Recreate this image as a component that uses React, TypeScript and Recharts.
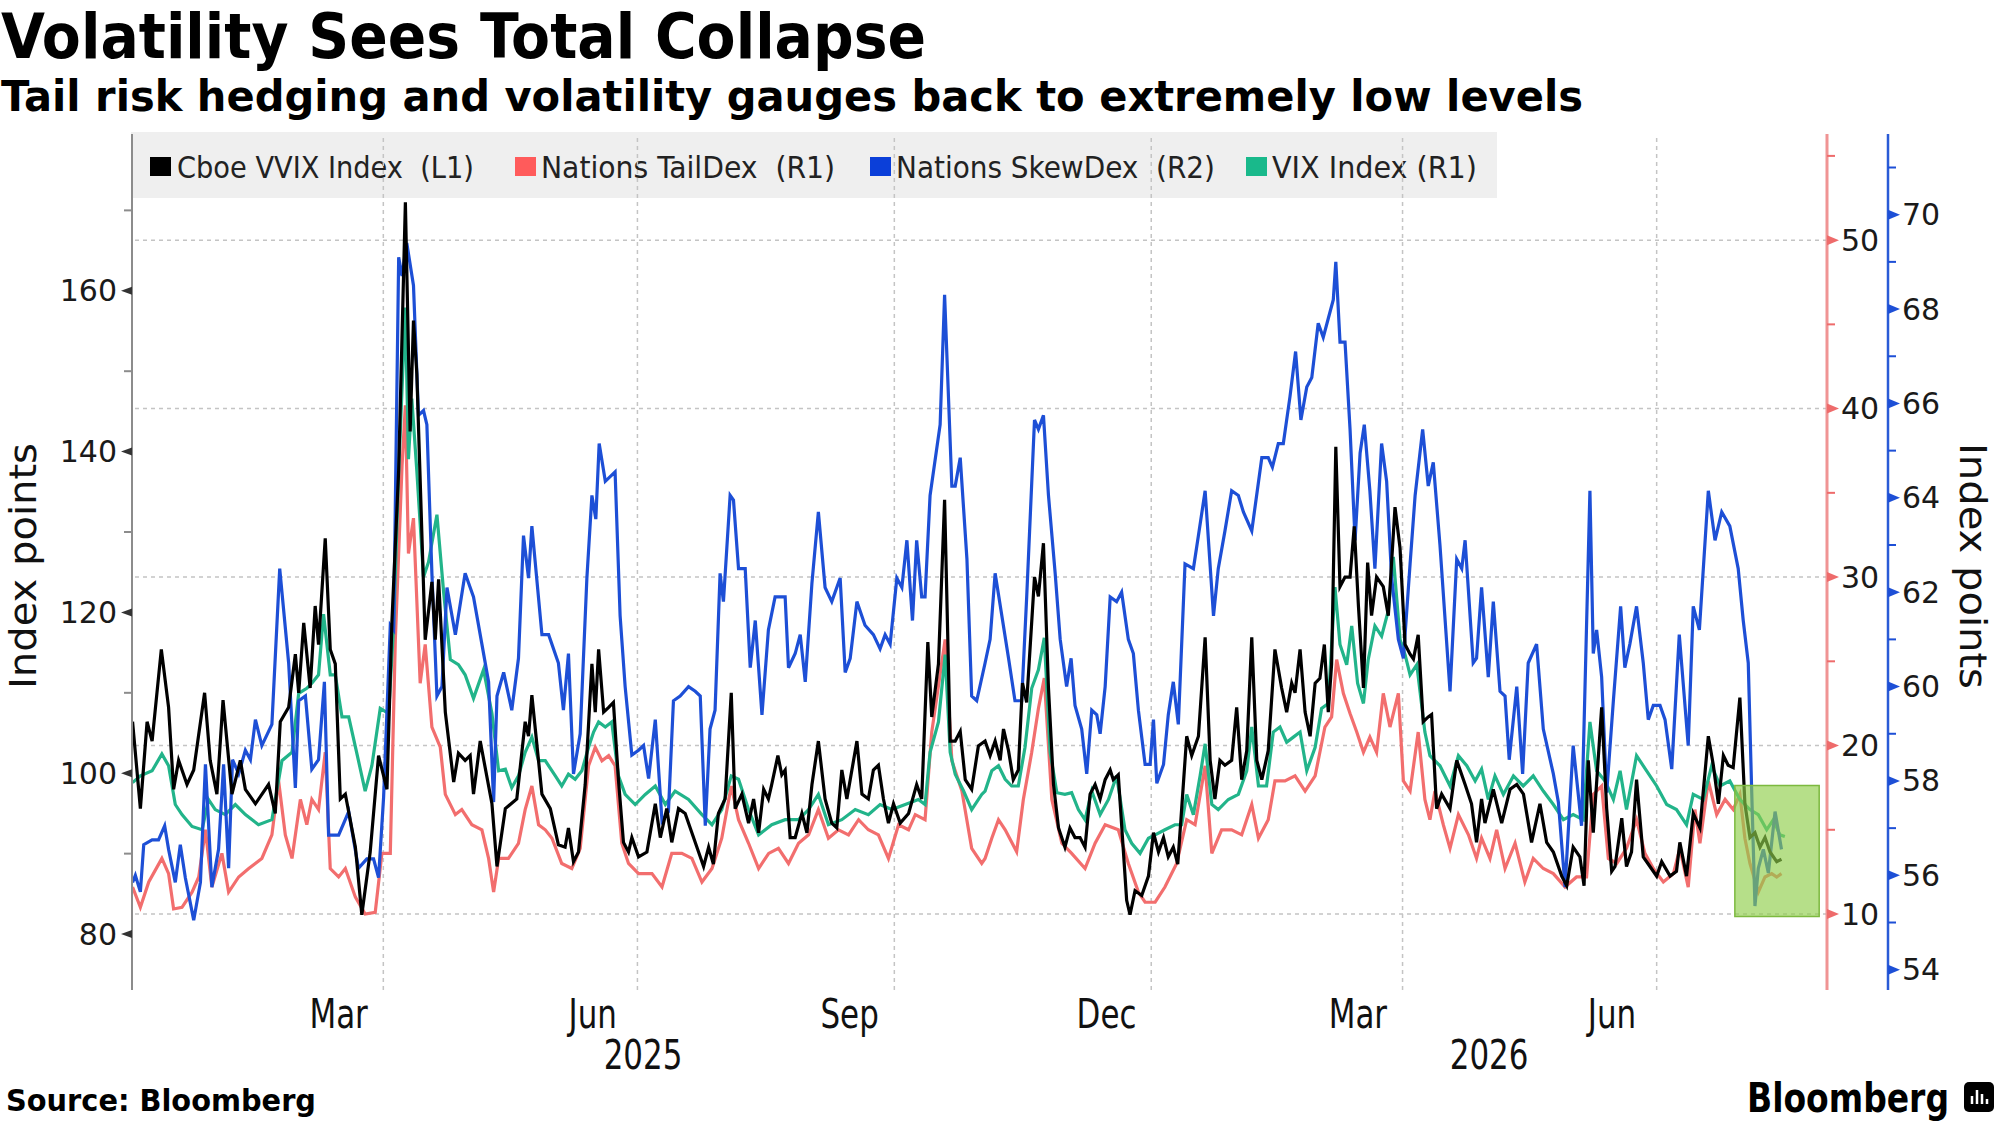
import React from "react";
import {
  LineChart,
  Line,
  XAxis,
  YAxis,
  ReferenceLine,
  ReferenceArea,
} from "recharts";

// every point: [days since 1 Jan 2025, index level]
const vvix: [number, number][] = [
  [0.2, 106.4], [3, 95.6], [5.4, 106.4], [7.2, 104], [10.5, 115.4], [13.1, 108.2], [14.9, 98], [16.7, 101.6], [19.7, 98.6], [22.1, 100.4],
  [26, 110], [28, 101.6], [30.4, 97.4], [32.6, 109.1], [35.8, 97.4], [38.8, 101.6], [40.6, 98], [44.2, 96.2], [48.9, 98.6], [51.3, 95],
  [53.1, 106.4], [56.1, 108.2], [58.5, 114.8], [59.7, 110], [61.5, 118.7], [63.8, 110.6], [65.6, 120.8], [66.8, 116], [69.2, 129.2], [71, 115.4],
  [72.8, 113.6], [74.6, 96.8], [76.4, 97.4], [80, 90.8], [82.3, 82.4], [85.3, 90.2], [88.3, 102.2], [91.3, 98], [93.1, 119], [95.5, 137.7],
  [97.9, 171], [99.6, 142.5], [100.8, 156.3], [102, 149.7], [105, 116.6], [107.4, 123.8], [108.6, 116.6], [109.8, 124.1], [112.2, 107.6], [115.2, 98.9],
  [116.9, 102.5], [119.3, 101.6], [121.1, 102.2], [122.3, 97.4], [124.7, 104], [128.9, 96.2], [130.7, 88.4], [133.7, 95.6], [137.8, 96.8], [140.8, 106.4],
  [142, 104.6], [143.2, 109.7], [146.8, 97.4], [149.8, 95.6], [152.7, 91.1], [155.1, 90.8], [156.3, 93.2], [158.1, 89], [159.9, 90.2], [162.3, 98.6],
  [164.7, 113.6], [165.9, 107.6], [167.1, 115.4], [168.9, 107.6], [170.7, 108.2], [172.4, 108.8], [174.2, 99.2], [176, 91.4], [177.8, 90.2], [179, 92],
  [181.4, 89.6], [184.4, 90.2], [187.4, 96.2], [189.2, 92], [191.5, 95.6], [193.3, 91.4], [195.7, 95.6], [198.1, 95], [200.5, 92.6], [202.9, 90.2],
  [204.7, 88.4], [206.5, 90.8], [208.2, 88.7], [210, 95], [212.4, 96.8], [214.6, 110], [216, 95.6], [218.4, 97.4], [220.8, 93.8], [222.6, 96.8],
  [224.4, 92.6], [226.2, 98], [227.9, 96.8], [229.1, 98.6], [231.3, 102.2], [232.7, 99.8], [233.9, 100.4], [235.7, 92], [237.5, 92], [239.9, 95],
  [241.7, 92.6], [243.5, 98.6], [245.8, 104], [248.2, 96.8], [250.6, 93.8], [252.4, 93.2], [254.2, 100.4], [256, 96.8], [257.2, 99.2], [259.6, 104],
  [261.4, 97.4], [263.7, 96.8], [265.5, 100.4], [267.3, 101], [269.1, 96.8], [270.9, 93.8], [272.7, 96.2], [275.1, 93.8], [278.1, 95], [281, 98.6],
  [282.8, 96.8], [285, 116.3], [286.4, 107], [288.8, 113.6], [291, 134], [293, 104], [294.8, 104], [296.6, 105.2], [298.4, 99.2], [300.7, 98],
  [303.1, 103.4], [305.5, 104], [307.3, 102.2], [309.1, 104], [310.9, 101.6], [312.1, 105.5], [313.9, 102.8], [315.6, 99.2], [317.4, 100.4], [318.9, 111.2],
  [320.4, 108.8], [323.2, 124.4], [324.6, 122], [326.4, 128.6], [328.2, 110.6], [330, 98.6], [331.8, 93.2], [334.1, 90.8], [335.9, 93.2], [337.7, 92],
  [339.5, 92], [341.3, 90.8], [343.1, 97.4], [344.9, 98.6], [346.7, 96.8], [348.5, 99.2], [350.3, 100.4], [351.4, 99.2], [353.2, 99.8], [354.7, 92],
  [356.2, 84.2], [357.4, 82.4], [359.2, 85.4], [361.6, 84.8], [364, 87.2], [365.8, 92.6], [367.6, 90.2], [369.4, 92], [371.1, 89.6], [372.9, 90.8],
  [374.5, 88.7], [375.9, 95.6], [377.7, 104.6], [379.5, 102.2], [381.9, 104.6], [384.3, 116.9], [386.1, 101.6], [387.8, 96.8], [389.6, 101.6], [391.4, 101],
  [393.8, 101.6], [395.6, 108.2], [397.4, 99.2], [399.2, 102.8], [401, 116.9], [402.8, 101.6], [404.6, 99.2], [406.9, 102.8], [409.3, 115.4], [411.7, 110.6],
  [413.5, 107.6], [415.3, 111.2], [416.5, 110], [418.3, 115.4], [420.1, 107.6], [421.9, 104.6], [423.7, 111.2], [425.4, 111.8], [427, 116], [428.4, 107.6],
  [429.6, 113.6], [431.1, 140.6], [432.6, 123.2], [434.4, 124.4], [436.2, 124.4], [437.7, 130.7], [439.2, 120.8], [441, 110.6], [442.5, 126.2], [443.9, 119.6],
  [445.7, 124.4], [448.1, 123.2], [449.9, 119.6], [452.3, 133.1], [454.1, 128], [455.9, 116], [457.7, 114.8], [458.9, 114.2], [460.6, 117.2], [462.4, 106.4],
  [464.2, 107], [465.4, 107.3], [467.2, 95.6], [469, 97.4], [472, 95.6], [474.4, 101.6], [477.4, 98.6], [479.7, 96.2], [481.5, 91.4], [483.3, 96.8],
  [484.5, 93.8], [487.5, 98], [490.5, 93.8], [493.5, 98], [495.9, 98.6], [498.3, 97.4], [501.2, 91.4], [504.2, 96.2], [506.6, 91.4], [509, 90.2],
  [512, 87.2], [513.8, 86], [516.1, 90.8], [518.5, 89.6], [520, 86], [521.5, 101.6], [523.3, 92.6], [526.3, 108.2], [528.1, 95.6], [529.9, 87.8],
  [531.1, 88.4], [533.5, 94.4], [535.2, 88.4], [537, 90.2], [538.8, 99.2], [541.2, 89.6], [543.6, 88.4], [546, 87.2], [547.8, 89], [550.8, 87.2],
  [553.1, 87.8], [554.3, 91.4], [556.7, 87.2], [559.1, 95], [561.5, 93.2], [564.5, 104.6], [566.3, 101], [568.1, 96.2], [569.9, 102.2], [571.6, 101],
  [573.4, 100.7], [575.8, 109.4], [577.6, 96.2], [579.4, 92], [581.2, 92.6], [583, 90.8], [584.8, 92], [586.6, 90.2], [589, 89], [590.7, 89.3],
];

const tailDex: [number, number][] = [
  [0.2, 11.6], [3, 10.4], [6, 11.9], [10.7, 13.3], [13.1, 12.4], [14.9, 10.3], [17.9, 10.4], [21.5, 11.3], [23.9, 12.2], [26.3, 15],
  [28.6, 11.6], [32.2, 13.6], [34.6, 11.3], [38.2, 12.2], [41.8, 12.7], [46.5, 13.3], [50.1, 14.7], [52.5, 17.9], [54.9, 14.7], [57.3, 13.3],
  [60.3, 16.8], [62.6, 15.3], [64.4, 16.8], [66.8, 16.2], [69.2, 19.6], [71, 12.7], [74, 12.2], [76.4, 12.7], [80, 11], [83.5, 10],
  [87.1, 10.1], [89.5, 13.6], [92.5, 13.6], [94.3, 26.3], [96.7, 36.6], [97.9, 40.2], [99, 31.4], [100.8, 33.5], [103.2, 23.7], [105, 26],
  [107.4, 21.1], [110.4, 19.9], [112.2, 17.1], [115.8, 15.9], [118.1, 16.2], [121.7, 15.3], [125.3, 15], [127.7, 13.3], [129.5, 11.3], [131.3, 13.3],
  [134.8, 13.3], [138.4, 14.2], [140.8, 16.2], [143.2, 17.6], [145.6, 15.3], [148, 15], [150.4, 14.5], [153.9, 13], [157.5, 12.7], [160.5, 13.9],
  [163.5, 18.8], [165.9, 19.9], [168.3, 19.1], [170.7, 19.4], [173, 18.8], [175.4, 14.2], [177.8, 13], [181.4, 12.4], [186.2, 12.4], [189.8, 11.6],
  [193.3, 13.6], [196.9, 13.6], [200.5, 13.3], [204.1, 11.9], [207.7, 12.7], [211.2, 14.5], [214.6, 17.6], [217.2, 15.6], [220.8, 14.2], [224.4, 12.7],
  [228, 13.6], [231.5, 13.9], [235.1, 13], [238.7, 14.2], [242.3, 14.7], [245.8, 16.2], [249.4, 14.5], [253, 15], [256.6, 14.7], [260.2, 15.6],
  [263.7, 15], [267.3, 14.7], [270.9, 13.3], [274.5, 15.3], [278.1, 15], [280.5, 15.9], [284, 15.6], [286.4, 20.8], [291.2, 26.3], [293.6, 19.1],
  [297.2, 17.3], [300.7, 13.9], [304.3, 13], [305.5, 13.3], [307.9, 14.5], [310.3, 15.6], [312.7, 15], [316.8, 13.7], [319.2, 16.8], [322.2, 19.6],
  [324.6, 22.2], [326.7, 24], [329.4, 16.8], [333, 14.2], [336.5, 13.6], [341.3, 12.7], [344.9, 14.2], [348.5, 15.3], [353.2, 15], [356.8, 13],
  [360.4, 11.3], [362.8, 10.7], [366.4, 10.7], [369.9, 11.6], [374.1, 13], [377.7, 15.6], [380.7, 15.3], [384.3, 18.8], [386.7, 13.6], [390.2, 15],
  [393.8, 15], [397.4, 14.7], [401, 16.5], [403.4, 14.5], [406.9, 15.6], [409.3, 17.9], [412.9, 17.9], [416.5, 18.2], [420.1, 17.3], [423.7, 18.2],
  [427.2, 21.1], [429.6, 21.7], [431.4, 25.1], [433.8, 23.1], [436.2, 21.9], [438.6, 20.8], [441, 19.6], [443.3, 20.5], [445.7, 19.6], [448.1, 23.1],
  [450.5, 21.1], [453.5, 23.1], [455.3, 17.9], [457.7, 17.3], [460.6, 20.8], [463, 16.8], [464.8, 15.6], [466.6, 17.3], [469.6, 15.3], [472, 13.9],
  [475, 15.9], [478.6, 14.7], [481.5, 13.3], [483.3, 14.5], [486.3, 13.3], [488.7, 15], [491.7, 12.7], [495.3, 14.2], [498.8, 11.9], [501.8, 13.3],
  [505.4, 12.7], [509, 12.4], [513.2, 11.6], [517.3, 12.2], [520.9, 12.2], [523.3, 17.1], [526.3, 17.6], [528.7, 13.3], [531.7, 13], [535.2, 13.9],
  [538.8, 15.6], [541.8, 13.6], [544.8, 12.7], [548.4, 11.9], [552, 12.4], [554.3, 13.9], [557.3, 11.6], [559.7, 16.2], [561.5, 14.2], [564.5, 17.9],
  [567.5, 15.9], [570.5, 16.8], [573.4, 16.2], [575.8, 17.1], [577.6, 14.5], [579.4, 13], [582.4, 11.3], [584.8, 12.2], [587.2, 12.4], [589, 12.2],
  [590.7, 12.4],
];

const skewDex: [number, number][] = [
  [0.2, 55.85], [1.2, 56], [3, 55.65], [4.2, 56.65], [7.2, 56.75], [9.5, 56.75], [11.7, 57.05], [13.1, 56.55], [15.5, 55.85], [17.3, 56.65],
  [19.1, 55.95], [22.1, 55.05], [24.5, 55.85], [26.3, 58.35], [28.6, 55.75], [31, 56.55], [32.8, 58.35], [34.6, 56.15], [36, 58.45], [38.2, 58.15],
  [40.6, 58.65], [42.4, 58.45], [44.2, 59.3], [46.5, 58.75], [50.1, 59.2], [52.9, 62.5], [56.1, 60.5], [58.5, 57.85], [59.7, 59.7], [62.1, 59.8],
  [64.4, 58.25], [66.8, 58.45], [68.9, 60.1], [70.4, 56.85], [74, 56.85], [77.6, 57.35], [81.1, 56.15], [84.1, 56.35], [86.5, 56.35], [88.3, 55.95],
  [90.1, 57.65], [92.5, 61.3], [93.7, 61.2], [95.5, 69.1], [96.7, 68.7], [98.4, 69.4], [100.8, 68.5], [102.6, 65.75], [104.4, 65.85], [105.6, 65.55],
  [107.4, 62.4], [109.2, 59.8], [111, 60], [112.8, 62.1], [115.8, 61.1], [119.3, 62.4], [122.3, 61.9], [125.3, 60.9], [127.7, 60.1], [129.5, 57.55],
  [130.7, 59.8], [133.1, 60.3], [136, 59.5], [138.4, 60.6], [140.2, 63.2], [142, 62.3], [143.2, 63.4], [146.8, 61.1], [149.2, 61.1], [152.7, 60.5],
  [154.5, 59.5], [156.3, 60.7], [158.1, 58.15], [160.5, 59], [162.9, 62.3], [164.7, 64.05], [166.1, 63.55], [167.3, 65.15], [169.5, 64.35], [173, 64.55],
  [174.8, 61.5], [176.6, 60], [179, 58.55], [181.4, 58.65], [183.2, 58.75], [185, 58.05], [187.4, 59.3], [189.8, 57.15], [192.1, 57.35], [193.9, 59.7],
  [196.3, 59.8], [199.3, 60], [201.7, 59.9], [203.5, 59.8], [205.3, 57.05], [207, 59.1], [208.8, 59.5], [210.6, 62.4], [211.8, 61.8], [214.2, 64.05],
  [215.4, 63.95], [217.2, 62.5], [219.6, 62.5], [221.4, 60.4], [223.2, 61.4], [225.6, 59.4], [227.9, 61.2], [230.3, 61.9], [233.9, 61.9], [235.1, 60.4],
  [237.5, 60.7], [239.3, 61.1], [241.1, 60.1], [243.5, 62.2], [245.8, 63.7], [248.2, 62.1], [250.6, 61.8], [253.6, 62.3], [255.4, 60.3], [257.2, 60.6],
  [259.6, 61.8], [262.5, 61.3], [265.5, 61.1], [267.9, 60.8], [269.7, 61.1], [271.5, 60.9], [273.9, 62.3], [275.7, 62.1], [277.5, 63.1], [279.5, 61.4],
  [281, 63.1], [282.8, 61.9], [284, 61.9], [285.8, 64.05], [289.4, 65.55], [291, 68.3], [293.6, 64.25], [294.8, 64.25], [296.6, 64.85], [299, 62.7],
  [300.7, 59.8], [302.5, 59.7], [305.5, 60.5], [307.3, 61], [309.1, 62.4], [311.5, 61.5], [313.9, 60.6], [316.2, 59.7], [318.6, 59.7], [320.4, 61.9],
  [323.2, 65.65], [324.6, 65.45], [326.4, 65.75], [328.2, 64.05], [330.6, 62.4], [332.4, 61], [334.7, 60], [336.3, 60.6], [337.7, 59.6], [340.1, 59.1],
  [341.9, 58.15], [343.7, 59.5], [345.5, 59.4], [346.7, 59], [348.5, 60], [350.3, 61.9], [352.6, 61.8], [354.4, 62], [356.8, 61], [358.6, 60.7],
  [360.4, 59.5], [362.8, 58.35], [364.6, 58.35], [365.8, 59.3], [367, 57.95], [369.4, 58.35], [371.1, 59.4], [372.9, 60.1], [374.7, 59.2], [377.1, 62.6],
  [380.1, 62.5], [381.9, 63.2], [384.3, 64.15], [387.3, 61.5], [389, 62.5], [391.4, 63.3], [393.8, 64.15], [396.2, 64.05], [398, 63.7], [401, 63.3],
  [404.6, 64.85], [406.9, 64.85], [408.4, 64.65], [410.5, 65.15], [412.3, 65.15], [414.7, 66.15], [416.7, 67.1], [418.6, 65.65], [420.7, 66.35], [422.5, 66.55],
  [424.8, 67.7], [426.6, 67.4], [428.4, 67.8], [430.2, 68.2], [431.1, 69], [432.6, 67.3], [434.4, 67.3], [436.2, 65.45], [438, 63.1], [439.8, 64.95],
  [441.3, 65.55], [443.3, 64.15], [445.1, 62.5], [447.5, 65.15], [449.3, 64.35], [451.1, 62.3], [453.5, 61], [455.3, 60.6], [457.7, 62.6], [459.5, 64.05],
  [462.2, 65.45], [464.2, 64.25], [466, 64.75], [468.4, 63], [472, 59.9], [474.4, 62.7], [476.2, 62.5], [477.4, 63.1], [480.3, 60.5], [481.5, 60.6],
  [483.3, 62.1], [485.7, 60.2], [487.5, 61.8], [489.9, 59.9], [491.7, 59.8], [493.2, 58.45], [495.9, 60], [498, 58.15], [500, 60.5], [503, 60.9],
  [505.4, 59.1], [509, 58.15], [510.8, 57.55], [513.2, 55.75], [516.1, 58.75], [519.1, 57.05], [522.1, 64.15], [523.3, 60.7], [524.5, 61.2], [526.3, 60.2],
  [528.1, 57.75], [530.5, 59.7], [533.1, 61.7], [534.6, 60.4], [536.4, 60.9], [538.8, 61.7], [541.2, 60.5], [543, 59.3], [544.8, 59.6], [547.2, 59.6],
  [549, 59.3], [551.4, 58.25], [554.1, 61.1], [557.3, 58.75], [559.1, 61.7], [561.3, 61.2], [564.5, 64.15], [566.9, 63.1], [569.3, 63.7], [572.2, 63.4],
  [575.2, 62.5], [577, 61.4], [578.8, 60.5], [580, 57.85], [581.2, 55.35], [582.4, 56.15], [584.2, 56.55], [586, 56.05], [588.4, 57.35], [590.7, 56.55],
];

const vix: [number, number][] = [
  [0.2, 17.8], [3, 18.2], [7.2, 18.5], [10.7, 19.5], [13.1, 18.8], [15.5, 16.5], [17.9, 15.9], [21.5, 15.2], [25.1, 15], [27.4, 16.8],
  [29.8, 16.2], [33.4, 15.9], [37, 16.5], [40.6, 15.9], [45.3, 15.3], [50.1, 15.6], [53.7, 19.1], [57.3, 19.6], [59.7, 23.1], [62.6, 23.4],
  [64.4, 23.7], [66.8, 24.2], [68.6, 27.8], [71, 24.2], [72.8, 24.2], [75.2, 21.7], [77.6, 21.7], [81.1, 19.1], [83.5, 17.3], [85.9, 18.8],
  [88.9, 22.2], [91.9, 21.9], [93.7, 27.1], [95.5, 36.3], [97.9, 46], [99, 37], [100.2, 40.6], [102, 36.3], [104.4, 30], [106.2, 30.9],
  [109.2, 33.7], [111.6, 29.1], [114, 25.1], [116.9, 24.8], [119.3, 24.2], [122.3, 22.8], [125.9, 24.5], [128.9, 21.9], [131.3, 18.5], [133.7, 18.6],
  [136, 17.5], [138.4, 18.2], [140.8, 19.6], [143.2, 20.5], [145.6, 19.1], [148, 19.1], [151.6, 18.2], [153.9, 17.6], [156.3, 18.3], [158.7, 18],
  [161.1, 18.5], [163.5, 19.9], [165.3, 20.8], [167.1, 21.4], [169.5, 21.1], [171.8, 21.4], [174.2, 18.2], [176.6, 17.1], [180.2, 16.5], [183.8, 17.1],
  [187.4, 17.6], [191, 16.5], [194.5, 17.3], [199.3, 16.8], [204.1, 15.9], [207.7, 15.3], [211.2, 16.2], [214.6, 18.2], [217.2, 18], [220.8, 16.2],
  [224.4, 14.7], [229.1, 15.3], [233.9, 15.6], [238.7, 15.6], [242.3, 16.2], [245.8, 17.1], [249.4, 15.3], [254.2, 15.6], [259, 16.2], [263.7, 15.9],
  [267.9, 16.5], [272.1, 16.2], [276.9, 16.5], [281.6, 16.8], [284, 16.5], [285.8, 19.6], [288.8, 21.4], [291.2, 25.4], [293, 19.6], [294.8, 18.3],
  [297.8, 17.3], [300.7, 16.2], [304.3, 17.1], [305.5, 17.3], [307.9, 18.5], [310.3, 18.8], [312.7, 18], [315, 17.6], [317.4, 17.6], [319.8, 19.9],
  [322.2, 23.4], [324.6, 24.5], [326.7, 26.4], [328.8, 19.6], [331.2, 17.2], [334.1, 17.1], [336.5, 17.2], [338.9, 16.2], [341.3, 15.6], [343.7, 17.3],
  [346.7, 15.9], [349.7, 16.8], [352.6, 18.2], [355.6, 15], [358, 14.2], [361, 13.6], [364, 14.5], [366.4, 14.7], [369.9, 15], [373.5, 15.3],
  [375.9, 15.3], [377.7, 17.1], [380.1, 15.9], [382.5, 18.2], [384.3, 20.1], [386.7, 16.5], [389, 16.2], [392.6, 16.8], [396.2, 17.1], [399.2, 18.5],
  [401, 21.1], [403.4, 17.6], [406.3, 17.6], [408.7, 20.8], [411.1, 21.1], [413.5, 20.2], [415.9, 20.5], [418.3, 20.8], [420.7, 18.5], [423.7, 19.9],
  [426, 22.2], [428.4, 22.5], [430.8, 29.4], [432.6, 26], [435, 24.8], [436.8, 27.1], [438.9, 23.7], [441, 22.5], [442.7, 25.1], [445.1, 27.1],
  [447.5, 26.5], [449.9, 28], [451.7, 31.2], [454.1, 26.3], [455.9, 25.4], [457.7, 24.2], [460.1, 24.8], [463, 20.8], [464.8, 19.4], [468.4, 18.8],
  [472, 17.6], [475, 19.4], [478, 18.8], [481, 17.9], [483.3, 18.6], [485.7, 16.8], [488.1, 18.2], [491.1, 17.1], [494.7, 18.2], [498.2, 17.6],
  [501.8, 18.2], [505.4, 17.3], [509, 16.5], [512.6, 15.6], [516.1, 15.9], [519.7, 15.6], [522.1, 21.4], [524.5, 18.5], [527.5, 17.9], [530.5, 16.8],
  [532.9, 18.5], [535.2, 16.2], [538.8, 19.4], [542.4, 18.5], [546, 17.6], [549.6, 16.5], [553.1, 16.2], [556.7, 15.3], [559.1, 17.1], [562.7, 16.8],
  [565.7, 18.8], [568.7, 17.6], [572.2, 17.9], [575.8, 16.8], [579.4, 16.2], [582.4, 15.9], [585.4, 15], [587.8, 15.6], [590.1, 14.7], [591.9, 14.6],
];

// x axis: month labels sit mid-month, gridlines on quarter starts
const monthTickDays = [74, 165, 257, 349, 439, 530];
const monthTickLabels = ["Mar", "Jun", "Sep", "Dec", "Mar", "Jun"];
const yearTickDays = [183, 486];
const yearTickLabels = ["2025", "2026"];
const quarterDays = [90, 181, 273, 365, 455, 546];

const leftTicks = [80, 90, 100, 110, 120, 130, 140, 150, 160, 170];
const r1Ticks = [10, 15, 20, 25, 30, 35, 40, 45, 50, 55];
const r2Ticks = [54, 55, 56, 57, 58, 59, 60, 61, 62, 63, 64, 65, 66, 67, 68, 69, 70, 71];
const r1Grid = [10, 20, 30, 40, 50];

// the green box at the end (x in days, y on R1)
const boxDays = [574, 604.2];
const boxLevels = [9.86, 17.63];

const legendItems = [
  { label: "Cboe VVIX Index\u00a0 (L1)", color: "#000000", sx: 150, tx: 177, len: 297 },
  { label: "Nations TailDex\u00a0 (R1)", color: "#ff5b5b", sx: 515, tx: 541, len: 294 },
  { label: "Nations SkewDex\u00a0 (R2)", color: "#0b3fd9", sx: 870, tx: 896, len: 319 },
  { label: "VIX Index (R1)", color: "#19b98b", sx: 1246, tx: 1272, len: 205 },
];

const NUM_FONT = "'DejaVu Sans', Verdana, sans-serif";
const COND_FONT = "'Liberation Sans Narrow', 'DejaVu Sans Condensed', 'Arial Narrow', sans-serif";
const BOLD_FONT = "'DejaVu Sans', Verdana, sans-serif";

const RED = "#f26e6e";
const BLUE = "#1d4fd6";
const GREEN = "#22b48a";
const LINE_W = 3.2;

const toPts = (arr: [number, number][]) => arr.map(([d, v]) => ({ d, v }));

function LeftTick(props: any) {
  const { x, y, payload } = props;
  const v = payload.value;
  if (v % 20 !== 0) {
    return <line x1={x - 8} x2={x} y1={y} y2={y} stroke="#8c8c8c" strokeWidth={2} />;
  }
  return (
    <g>
      <path d={`M${x},${y - 4} L${x - 11},${y} L${x},${y + 4} Z`} fill="#333" />
      <text x={x - 15} y={y} textAnchor="end" dominantBaseline="central" fontFamily={NUM_FONT} fontSize={30} fill="#1a1a1a">
        {v}
      </text>
    </g>
  );
}

function makeRightTick(color: string, major: (v: number) => boolean) {
  return (props: any) => {
    const { x, y, payload } = props;
    const v = payload.value;
    if (!major(v)) {
      return <line x1={x} x2={x + 8} y1={y} y2={y} stroke={color} strokeWidth={2} />;
    }
    return (
      <g>
        <path d={`M${x},${y - 5} L${x + 12},${y} L${x},${y + 5} Z`} fill={color} />
        <text x={x + 14} y={y} textAnchor="start" dominantBaseline="central" fontFamily={NUM_FONT} fontSize={30} fill="#1a1a1a">
          {v}
        </text>
      </g>
    );
  };
}

const RedTick = makeRightTick("#ee6b6b", (v) => v % 10 === 0);
const BlueTick = makeRightTick("#1d4fd6", (v) => v % 2 === 0);

function XTick(props: any) {
  const { x, y, payload } = props;
  const mi = monthTickDays.indexOf(payload.value);
  const yi = yearTickDays.indexOf(payload.value);
  const label = mi >= 0 ? monthTickLabels[mi] : yi >= 0 ? yearTickLabels[yi] : null;
  if (label == null) return <g />;
  const dy = mi >= 0 ? 38 : 79;
  return (
    <text
      transform={`translate(${x} ${y + dy}) scale(0.86 1)`}
      textAnchor="middle"
      fontFamily={COND_FONT}
      fontSize={40}
      fill="#111"
    >
      {label}
    </text>
  );
}

export default function App() {
  return (
    <div style={{ position: "absolute", left: 0, top: 0, width: 2000, height: 1122, background: "#fff", overflow: "hidden" }}>
      <svg width={2000} height={1122} style={{ position: "absolute", left: 0, top: 0 }}>
        <text x={1} y={58} fontFamily={BOLD_FONT} fontWeight="bold" fontSize={62} textLength={925} lengthAdjust="spacingAndGlyphs" fill="#000">
          Volatility Sees Total Collapse
        </text>
        <text x={1} y={111} fontFamily={BOLD_FONT} fontWeight="bold" fontSize={43} textLength={1582} lengthAdjust="spacingAndGlyphs" fill="#000">
          Tail risk hedging and volatility gauges back to extremely low levels
        </text>

        <rect x={131} y={132} width={1366} height={66} fill="#efefef" />
        {legendItems.map((it) => (
          <g key={it.label}>
            <rect x={it.sx} y={157} width={21} height={19} fill={it.color} />
            <text
              x={it.tx}
              y={167}
              dominantBaseline="central"
              fontFamily={COND_FONT}
              fontSize={31}
              textLength={it.len}
              lengthAdjust="spacingAndGlyphs"
              fill="#222"
              style={{ whiteSpace: "pre" }}
            >
              {it.label}
            </text>
          </g>
        ))}

        <text
          x={0}
          y={0}
          transform="translate(23 566) rotate(-90)"
          textAnchor="middle"
          dominantBaseline="central"
          fontFamily={COND_FONT}
          fontSize={38}
          textLength={246}
          lengthAdjust="spacingAndGlyphs"
          fill="#111"
        >
          Index points
        </text>
        <text
          x={0}
          y={0}
          transform="translate(1973 566) rotate(90)"
          textAnchor="middle"
          dominantBaseline="central"
          fontFamily={COND_FONT}
          fontSize={38}
          textLength={246}
          lengthAdjust="spacingAndGlyphs"
          fill="#111"
        >
          Index points
        </text>

        <text x={6} y={1111} fontFamily={BOLD_FONT} fontWeight="bold" fontSize={31} textLength={310} lengthAdjust="spacingAndGlyphs" fill="#000">
          Source: Bloomberg
        </text>
        <text x={1747} y={1112} fontFamily={BOLD_FONT} fontWeight="bold" fontSize={41} textLength={202} lengthAdjust="spacingAndGlyphs" fill="#000">
          Bloomberg
        </text>
        <rect x={1964} y={1082} width={30} height={30} rx={5} fill="#000" />
        <path d="M1972,1104 L1972,1096 M1977,1104 L1977,1090 M1982,1104 L1982,1094 M1987,1104 L1987,1099" stroke="#fff" strokeWidth={2.5} />
      </svg>

      <div style={{ position: "absolute", left: 0, top: 0 }}>
        <LineChart width={2000} height={1122} margin={{ top: 134, right: 0, bottom: 32, left: 0 }}>
          <XAxis
            dataKey="d"
            type="number"
            domain={[0, 607]}
            allowDataOverflow
            ticks={[...monthTickDays, ...yearTickDays]}
            interval={0}
            height={100}
            tickSize={0}
            tickMargin={0}
            axisLine={false}
            tickLine={false}
            tick={XTick}
          />
          <YAxis
            yAxisId="l1"
            orientation="left"
            type="number"
            width={132}
            domain={[73.04, 179.5]}
            allowDataOverflow
            ticks={leftTicks}
            interval={0}
            tickSize={0}
            tickMargin={0}
            tickLine={false}
            axisLine={{ stroke: "#8c8c8c", strokeWidth: 2 }}
            tick={LeftTick}
          />
          <YAxis
            yAxisId="r1"
            orientation="right"
            type="number"
            width={61}
            domain={[5.49, 56.3]}
            allowDataOverflow
            ticks={r1Ticks}
            interval={0}
            tickSize={0}
            tickMargin={0}
            tickLine={false}
            axisLine={{ stroke: "#f09494", strokeWidth: 3 }}
            tick={RedTick}
          />
          <YAxis
            yAxisId="r2"
            orientation="right"
            type="number"
            width={112}
            domain={[53.57, 71.71]}
            allowDataOverflow
            ticks={r2Ticks}
            interval={0}
            tickSize={0}
            tickMargin={0}
            tickLine={false}
            axisLine={{ stroke: "#2a5bd6", strokeWidth: 2.5 }}
            tick={BlueTick}
          />

          {quarterDays.map((d) => (
            <ReferenceLine key={"q" + d} x={d} yAxisId="r1" stroke="#c4c4c4" strokeWidth={1.5} strokeDasharray="4 4" zIndex={-100} />
          ))}
          {r1Grid.map((v) => (
            <ReferenceLine key={"g" + v} y={v} yAxisId="r1" stroke="#c4c4c4" strokeWidth={1.5} strokeDasharray="4 4" zIndex={-100} />
          ))}

          <Line data={toPts(tailDex)} dataKey="v" yAxisId="r1" type="linear" stroke={RED} strokeWidth={LINE_W} dot={false} isAnimationActive={false} />
          <Line data={toPts(vix)} dataKey="v" yAxisId="r1" type="linear" stroke={GREEN} strokeWidth={LINE_W} dot={false} isAnimationActive={false} />
          <Line data={toPts(skewDex)} dataKey="v" yAxisId="r2" type="linear" stroke={BLUE} strokeWidth={LINE_W} dot={false} isAnimationActive={false} />
          <Line data={toPts(vvix)} dataKey="v" yAxisId="l1" type="linear" stroke="#000" strokeWidth={LINE_W} dot={false} isAnimationActive={false} />

          <ReferenceArea
            x1={boxDays[0]}
            x2={boxDays[1]}
            y1={boxLevels[0]}
            y2={boxLevels[1]}
            yAxisId="r1"
            fill="#8fce4a"
            fillOpacity={0.65}
            stroke="#7cb93f"
            strokeWidth={1.5}
            zIndex={450}
          />
        </LineChart>
      </div>
    </div>
  );
}
